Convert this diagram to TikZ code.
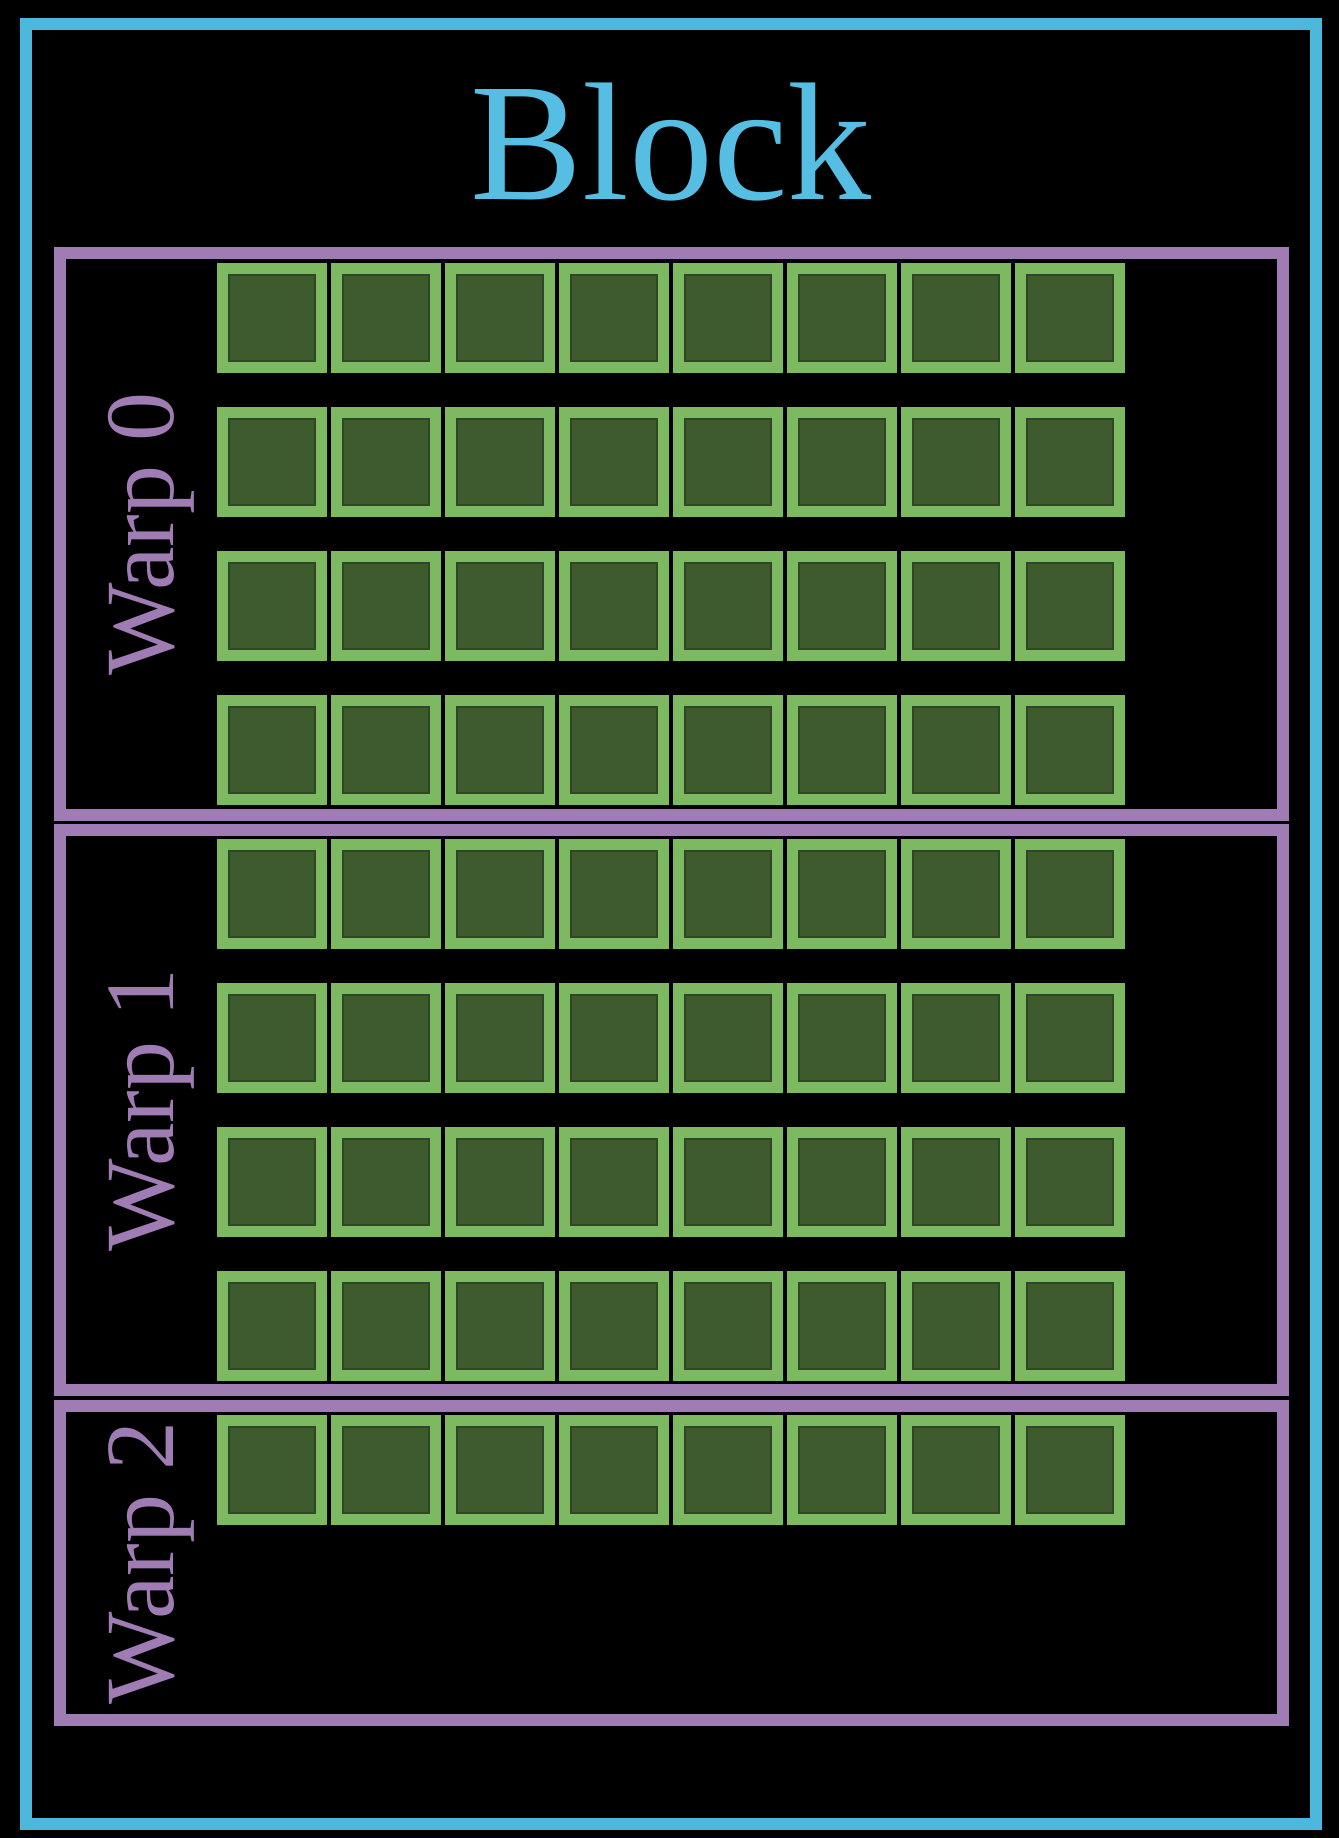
\documentclass[tikz,border=0pt]{standalone}
\usepackage{fontspec}
\setmainfont{Liberation Serif}
\definecolor{blockblue}{HTML}{4DB8DE}
\definecolor{textblue}{HTML}{56BEE3}
\definecolor{warppurple}{HTML}{A07CB4}
\definecolor{cellborder}{HTML}{7DB960}
\definecolor{cellfill}{HTML}{3E5B30}
\definecolor{celledge}{HTML}{2F4724}
\begin{document}
\begin{tikzpicture}[x=1pt,y=-1pt,
  blockbox/.style={draw=blockblue,line width=12pt,rectangle,inner sep=0pt,outer sep=0pt,minimum width=1290pt,minimum height=1800pt},
  warpbox/.style={draw=warppurple,line width=12pt,rectangle,inner sep=0pt,outer sep=0pt,minimum width=1223pt,anchor=north west},
  cell/.style={draw=cellborder,fill=cellfill,line width=12pt,rectangle,inner sep=0pt,outer sep=0pt,minimum size=98pt},
  celledgebox/.style={draw=celledge,line width=1.2pt,rectangle,inner sep=0pt,outer sep=0pt,minimum size=86pt},
  warplabel/.style={text=warppurple,font=\fontsize{98}{98}\selectfont,rotate=90,anchor=base,inner sep=0pt},
  blocklabel/.style={text=textblue,font=\fontsize{168}{168}\selectfont,anchor=base,inner sep=0pt}]
\fill[black] (0,0) rectangle (1339,1838);
\useasboundingbox (0,0) rectangle (1339,1838);
\node[blockbox] (block) at (671,924) {};
\node[blocklabel] (blocktitle) at (671,200) {Block};
\node[warpbox,minimum height=562pt] (w0) at (60,253) {};
\node[warpbox,minimum height=560pt] (w1) at (60,830) {};
\node[warpbox,minimum height=314pt] (w2) at (60,1406) {};
\node[warplabel] (l0) at (173,534) {Warp 0};
\node[warplabel] (l1) at (173,1110) {Warp 1};
\node[warplabel] (l2) at (173,1563) {Warp 2};
\foreach \r in {0,...,8}{
  \foreach \c in {0,...,7}{
    \pgfmathsetmacro{\cx}{272+114*\c}
    \pgfmathsetmacro{\cy}{318+144*\r}
    \node[cell] (c-\r-\c) at (\cx,\cy) {};
    \node[celledgebox] (e-\r-\c) at (\cx,\cy) {};
  }
}
\end{tikzpicture}
\end{document}
